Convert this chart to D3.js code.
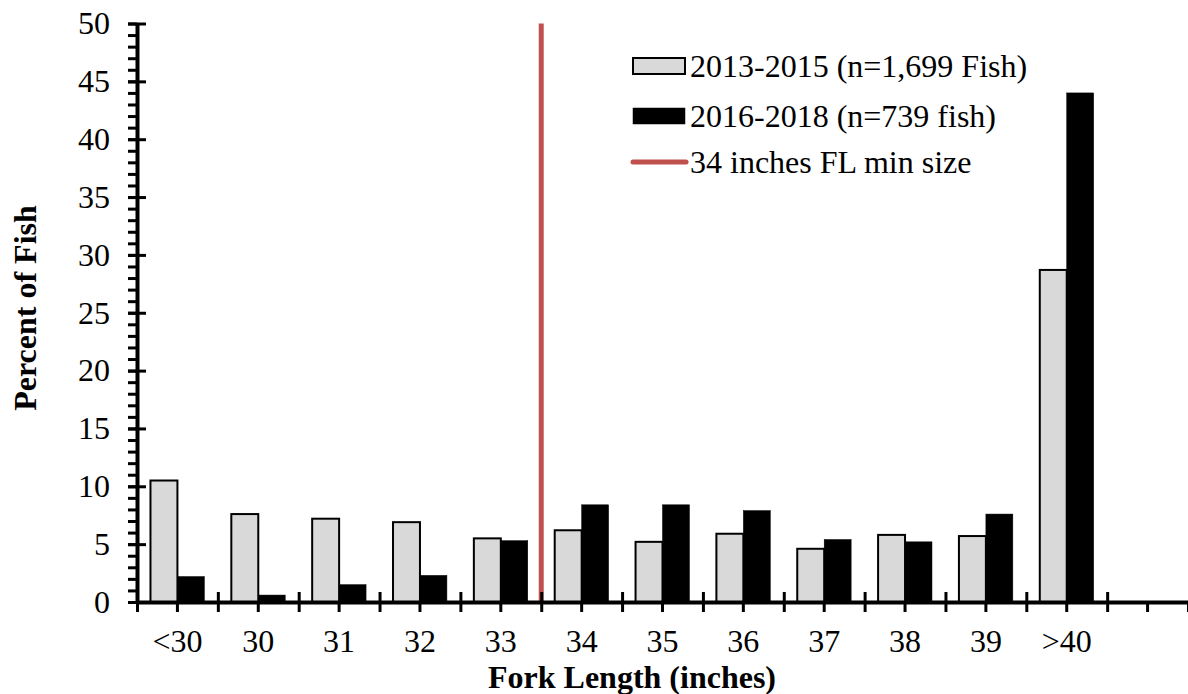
<!DOCTYPE html>
<html>
<head>
<meta charset="utf-8">
<script src="https://cdn.jsdelivr.net/npm/d3@7"></script>
<style>
  html, body { margin: 0; padding: 0; background: #fff; }
  svg { display: block; font-family: "Liberation Serif", "Times New Roman", serif; }
</style>
</head>
<body>
<div id="chart"></div>
<script>
// Fork length distribution, two sampling periods
const categories = ['<30', '30', '31', '32', '33', '34', '35', '36', '37', '38', '39', '>40'];
const seriesNames = ['2013-2015 (n=1,699 Fish)', '2016-2018 (n=739 fish)'];
const pct2013to2015 = [10.5, 7.6, 7.2, 6.9, 5.5, 6.2, 5.2, 5.9, 4.6, 5.8, 5.7, 28.7];
const pct2016to2018 = [2.2, 0.6, 1.5, 2.3, 5.3, 8.4, 8.4, 7.9, 5.4, 5.2, 7.6, 44.0];
const yTicks = [0, 5, 10, 15, 20, 25, 30, 35, 40, 45, 50];
const minSizeCategory = '34';
const minSizeLabel = '34 inches FL min size';

(function() {
  const width = 1188;
  const height = 694;
  const margin = { top: 23.5, right: 0, bottom: 92, left: 137 };
  const fontSize = '32px';

  const svg = d3.select('#chart')
    .append('svg')
    .attr('width', width)
    .attr('height', height);

  // one empty slot after '>40', as in the original axis
  const slots = categories.concat(['']);

  const x = d3.scaleBand()
    .domain(slots)
    .range([margin.left, width - margin.right])
    .padding(0);

  const xSub = d3.scaleBand()
    .domain(seriesNames)
    .range([0, x.bandwidth()])
    .paddingInner(0)
    .paddingOuter(0.5);

  const y = d3.scaleLinear()
    .domain([0, 50])
    .range([height - margin.bottom, margin.top]);

  const fills = ['#d9d9d9', '#000000'];
  const rows = categories.map((c, i) => ({ cat: c, vals: [pct2013to2015[i], pct2016to2018[i]] }));

  // bars
  const groups = svg.append('g')
    .selectAll('g')
    .data(rows)
    .enter()
    .append('g')
    .attr('transform', d => `translate(${x(d.cat)},0)`);

  groups.selectAll('rect')
    .data(d => d.vals.map((v, k) => ({ name: seriesNames[k], value: v, k })))
    .enter()
    .append('rect')
    .attr('x', d => xSub(d.name))
    .attr('y', d => y(d.value))
    .attr('width', xSub.bandwidth())
    .attr('height', d => y(0) - y(d.value))
    .attr('fill', d => fills[d.k])
    .attr('stroke', '#000')
    .attr('stroke-width', d => d.k === 0 ? 2 : 0.5);

  // minimum size line
  svg.append('line')
    .attr('x1', x(minSizeCategory))
    .attr('x2', x(minSizeCategory))
    .attr('y1', y(50))
    .attr('y2', y(0))
    .attr('stroke', '#c0504d')
    .attr('stroke-width', 5);

  // y axis: minor ticks, major ticks crossing
  const yMinor = d3.range(0, 51, 1);
  svg.append('g')
    .attr('transform', `translate(${margin.left},0)`)
    .call(d3.axisLeft(y).tickValues(yMinor).tickSize(9).tickFormat(''))
    .call(g => g.select('.domain').remove())
    .selectAll('line').attr('stroke-width', 3);

  svg.append('g')
    .attr('transform', `translate(${margin.left},0)`)
    .call(d3.axisRight(y).tickValues(yTicks).tickSize(9).tickFormat(''))
    .call(g => g.select('.domain').remove())
    .selectAll('line').attr('stroke-width', 3);

  const yAxis = svg.append('g')
    .attr('transform', `translate(${margin.left},0)`)
    .call(d3.axisLeft(y).tickValues(yTicks).tickSize(9).tickPadding(18).tickSizeOuter(0));
  yAxis.select('.domain').attr('stroke-width', 4);
  yAxis.selectAll('line').attr('stroke-width', 3);
  yAxis.selectAll('text')
    .style('font-size', fontSize)
    .style('font-family', '"Liberation Serif", "Times New Roman", serif')
    .attr('fill', '#000');

  // x axis: boundary ticks crossing, centre ticks below
  const bounds = d3.scaleLinear().domain([0, slots.length]).range(x.range());
  svg.append('g')
    .attr('transform', `translate(0,${y(0)})`)
    .call(d3.axisBottom(bounds).tickValues(d3.range(0, slots.length + 1)).tickSize(10).tickFormat(''))
    .call(g => g.select('.domain').remove())
    .selectAll('line').attr('stroke-width', 3);
  svg.append('g')
    .attr('transform', `translate(0,${y(0)})`)
    .call(d3.axisTop(bounds).tickValues(d3.range(1, slots.length)).tickSize(10).tickFormat(''))
    .call(g => g.select('.domain').remove())
    .selectAll('line').attr('stroke-width', 3);

  const xAxis = svg.append('g')
    .attr('transform', `translate(0,${y(0)})`)
    .call(d3.axisBottom(x).tickSize(10).tickPadding(17).tickSizeOuter(0));
  xAxis.select('.domain').attr('stroke-width', 4);
  xAxis.selectAll('line').attr('stroke-width', 3);
  xAxis.selectAll('text')
    .style('font-size', fontSize)
    .style('font-family', '"Liberation Serif", "Times New Roman", serif')
    .attr('fill', '#000');

  // axis titles
  svg.append('text')
    .attr('x', 632)
    .attr('y', 688)
    .attr('text-anchor', 'middle')
    .style('font-size', '32px')
    .style('font-weight', 'bold')
    .text('Fork Length (inches)');

  svg.append('text')
    .attr('transform', 'translate(36,308) rotate(-90)')
    .attr('text-anchor', 'middle')
    .style('font-size', '32px')
    .style('font-weight', 'bold')
    .text('Percent of Fish');

  // legend
  const legend = svg.append('g').attr('transform', 'translate(633,0)');
  const legendY = [66, 116, 162];
  seriesNames.forEach((name, k) => {
    legend.append('rect')
      .attr('x', 0)
      .attr('y', legendY[k] - 8)
      .attr('width', 52)
      .attr('height', 16)
      .attr('fill', fills[k])
      .attr('stroke', '#000')
      .attr('stroke-width', k === 0 ? 2 : 0.5);
  });
  legend.append('line')
    .attr('x1', 0).attr('x2', 53)
    .attr('y1', legendY[2]).attr('y2', legendY[2])
    .attr('stroke', '#c0504d')
    .attr('stroke-width', 5)
    .attr('stroke-linecap', 'round');
  legend.selectAll('text.lbl')
    .data(seriesNames.concat([minSizeLabel]))
    .enter()
    .append('text')
    .attr('class', 'lbl')
    .attr('x', 57)
    .attr('y', (d, i) => legendY[i])
    .attr('dy', '0.35em')
    .style('font-size', fontSize)
    .text(d => d);
})();
</script>
</body>
</html>
